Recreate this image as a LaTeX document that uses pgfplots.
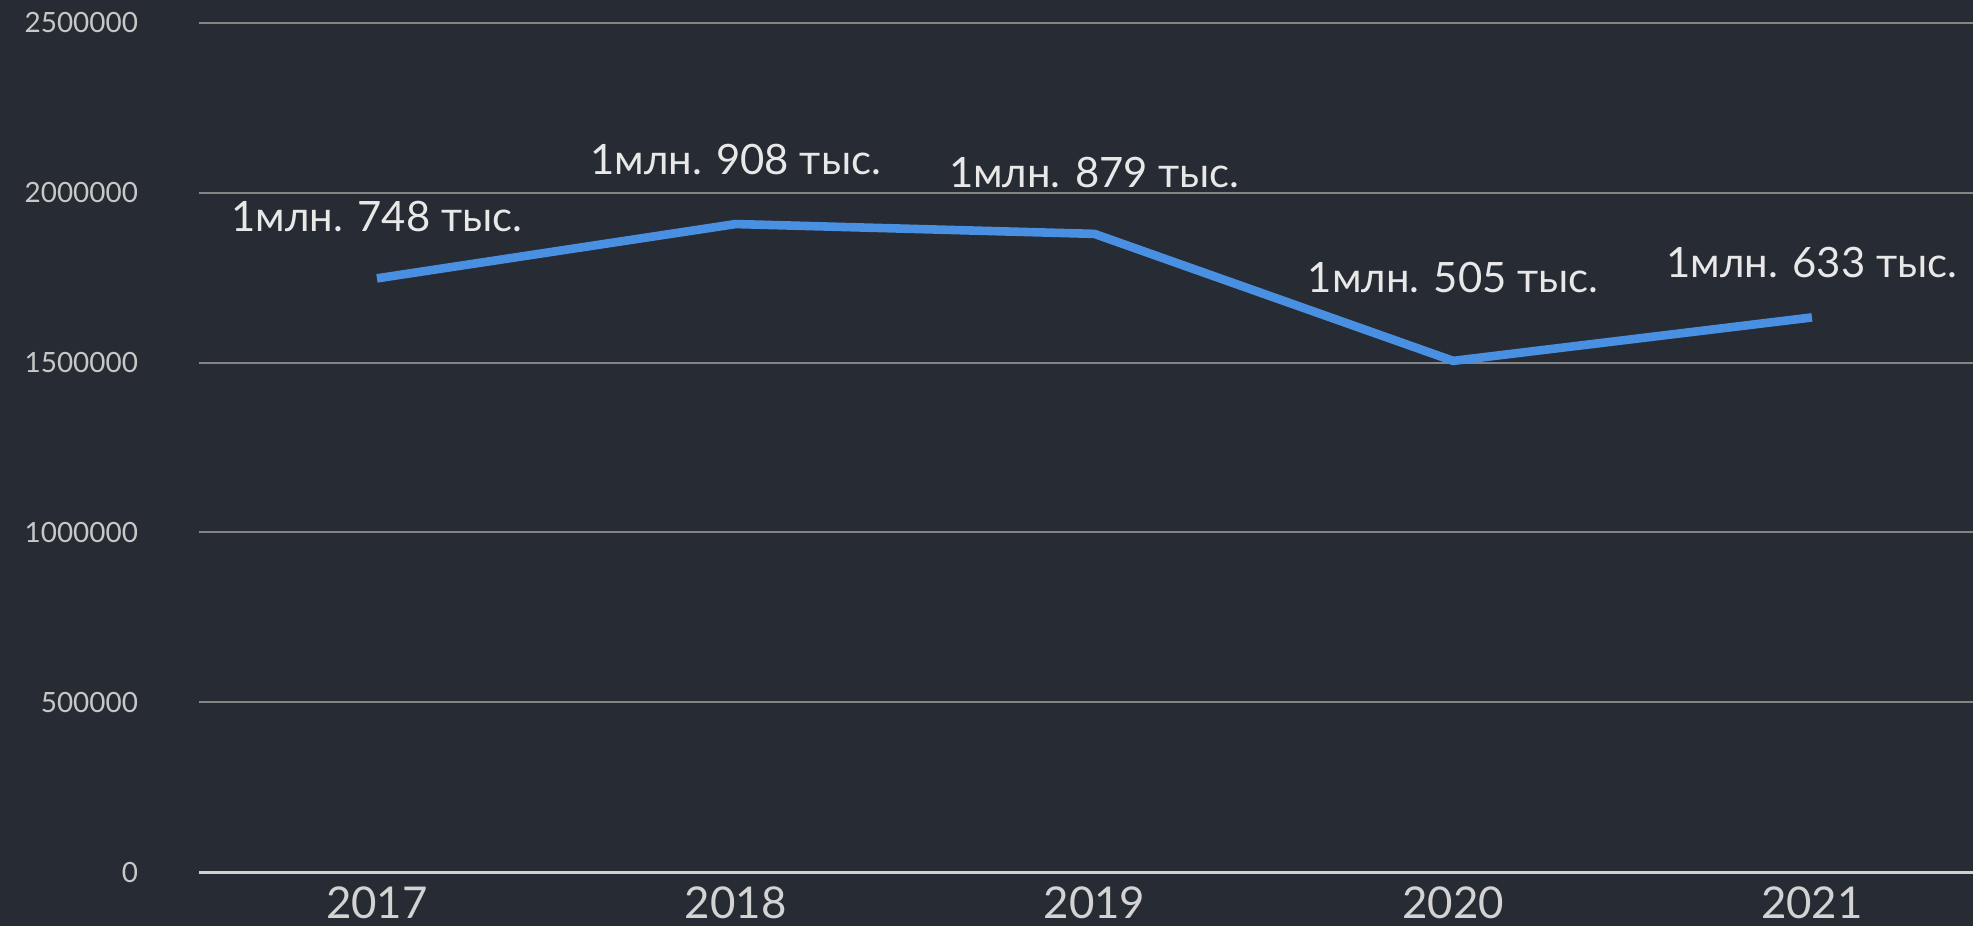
\documentclass[border=0pt]{standalone}
\usepackage{fontspec}
\setmainfont{Lato}
\usepackage{pgfplots}
\pgfplotsset{compat=1.18}
\definecolor{bgcol}{HTML}{272B33}
\definecolor{linecol}{HTML}{4A90E2}
\definecolor{gridcol}{HTML}{858585}
\definecolor{zerocol}{HTML}{D0D0D0}
\definecolor{tickcol}{HTML}{C8C8C8}
\definecolor{labcol}{HTML}{E8E8E8}
\begin{document}
\begin{tikzpicture}
% background in px*0.5bp; axis box sits with lower-left at origin
\fill[bgcol] (-99.5bp,-27bp) rectangle (887bp,436bp);
\useasboundingbox (-99.5bp,-27bp) rectangle (887bp,436bp);
\begin{axis}[scale only axis, width=887bp, height=424.5bp,
  xmin=-0.496, xmax=4.449, ymin=0, ymax=2500000,
  xtick={0,1,2,3,4}, xticklabels={2017,2018,2019,2020,2021},
  ytick={500000,1000000,1500000,2000000,2500000},
  extra y ticks={0},
  extra y tick style={grid style={draw=zerocol, line width=1.5bp}},
  scaled y ticks=false,
  /pgf/number format/.cd, fixed, set thousands separator={}, assume math mode=true,
  /pgfplots/.cd,
  axis line style={draw=none}, major tick length=0pt,
  ymajorgrids, grid style={draw=gridcol, line width=1bp},
  yticklabel style={font=\fontsize{14}{14}\selectfont, text=tickcol, anchor=east, xshift=-27bp},
  xticklabel style={font=\fontsize{22}{22}\selectfont, text=tickcol!80!white, yshift=-4bp},
  nodes near coords, point meta=explicit symbolic,
  visualization depends on={\thisrow{dy} \as \dy},
  every node near coord/.append style={font=\fontsize{21}{21}\selectfont, text=labcol, anchor=center, yshift=\dy bp}]
\addplot[linecol, line width=4.3bp, line join=round]
  table[col sep=comma, row sep=\\, meta=lab] {
  x,y,dy,lab\\
  0,1748000,31,1млн. 748 тыс.\\
  1,1908000,32.5,1млн. 908 тыс.\\
  2,1879000,30.5,1млн. 879 тыс.\\
  3,1505000,41.5,1млн. 505 тыс.\\
  4,1633000,27.5,1млн. 633 тыс.\\
};
\end{axis}
\end{tikzpicture}
\end{document}
